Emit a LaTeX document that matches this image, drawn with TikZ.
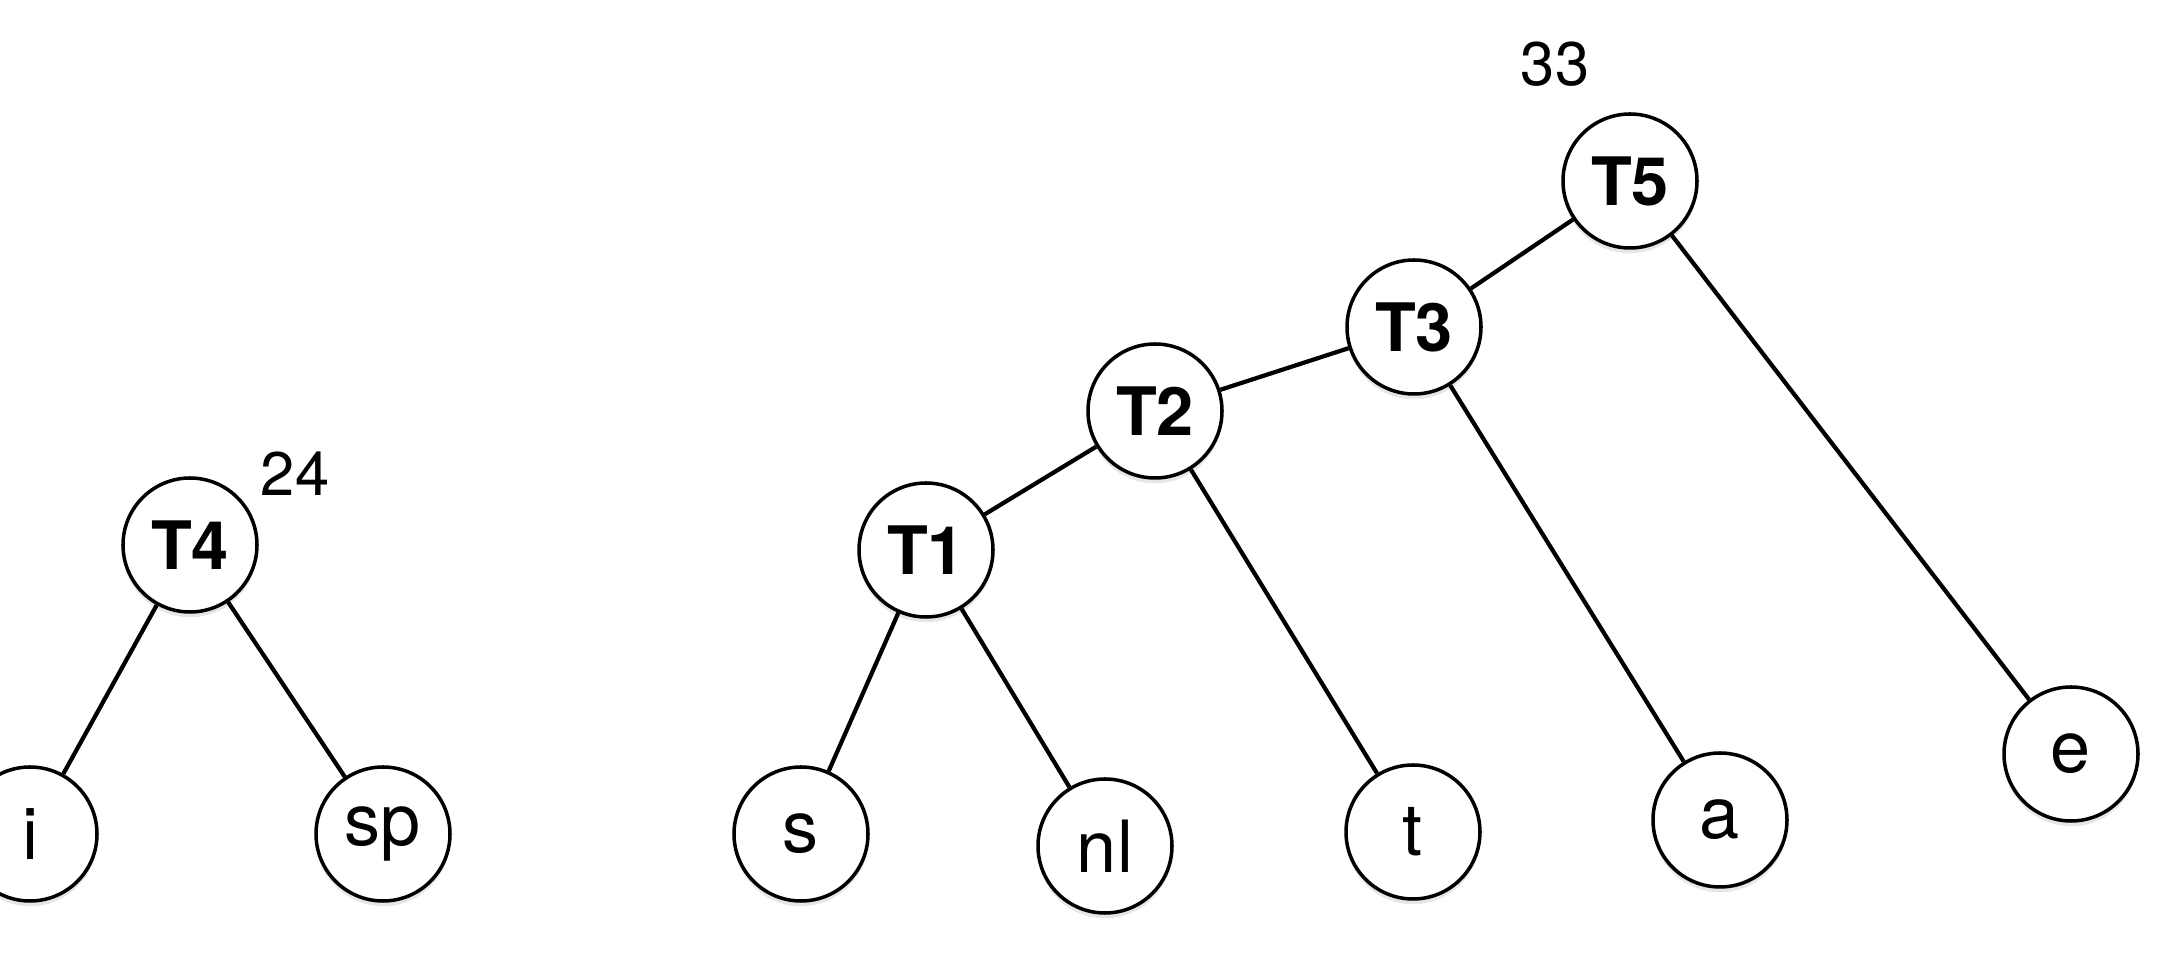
\documentclass[tikz,border=0pt]{standalone}
\usepackage{fontspec}
\setmainfont{TeX Gyre Heros}
\usetikzlibrary{shadows}

\begin{document}
\begin{tikzpicture}[
  tnode/.style={circle, draw, line width=2pt, fill=white, minimum size=2.68cm, inner sep=0pt,
    drop shadow={shadow xshift=0pt, shadow yshift=-3pt, opacity=0.2},
    font=\fontsize{38}{44}\selectfont\bfseries},
  leaf/.style={tnode, font=\fontsize{41}{48}\selectfont},
  weight/.style={font=\fontsize{35}{42}\selectfont},
  edge/.style={line width=2.4pt}
]
\useasboundingbox (0, 0) rectangle (43.6, 19.08);

% left tree
\node[tnode] (t4) at (3.8, 8.18) {T4};
\node[leaf] (i) at (0.6, 2.4) {i};
\node[leaf] (sp) at (7.66, 2.4) {sp};
\node[weight] (w24) at (5.9, 9.6) {24};

% right tree
\node[tnode] (t1) at (18.52, 8.08) {T1};
\node[tnode] (t2) at (23.1, 10.86) {T2};
\node[tnode] (t3) at (28.28, 12.54) {T3};
\node[tnode] (t5) at (32.6, 15.46) {T5};
\node[leaf] (s) at (16.02, 2.4) {s};
\node[leaf] (nl) at (22.1, 2.16) {nl};
\node[leaf] (t) at (28.26, 2.44) {t};
\node[leaf] (a) at (34.4, 2.68) {a};
\node[leaf] (e) at (41.42, 4.0) {e};
\node[weight] (w33) at (31.1, 17.8) {33};

\draw[edge] (t4) -- (i);
\draw[edge] (t4) -- (sp);
\draw[edge] (t1) -- (s);
\draw[edge] (t1) -- (nl);
\draw[edge] (t2) -- (t1);
\draw[edge] (t2) -- (t);
\draw[edge] (t3) -- (t2);
\draw[edge] (t3) -- (a);
\draw[edge] (t5) -- (t3);
\draw[edge] (t5) -- (e);

\end{tikzpicture}
\end{document}
